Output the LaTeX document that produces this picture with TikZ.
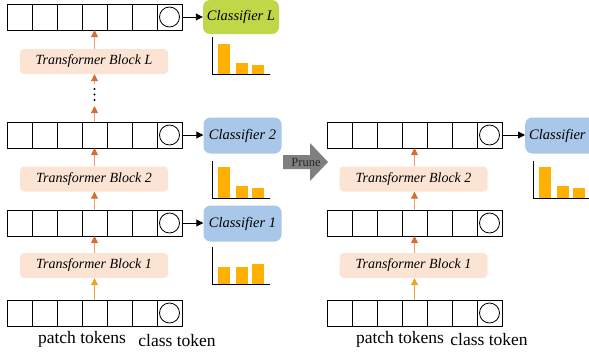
\documentclass[tikz,border=0pt]{standalone}
\usepackage{fontspec}
\setmainfont{Liberation Serif}
\usetikzlibrary{arrows.meta}
\definecolor{blockfill}{RGB}{252,228,212}
\definecolor{clsblue}{RGB}{169,199,232}
\definecolor{clsgreen}{RGB}{192,215,72}
\definecolor{barc}{RGB}{255,176,0}
\definecolor{heador}{RGB}{214,110,50}
\definecolor{shaftor}{RGB}{235,160,120}
\definecolor{yelor}{RGB}{234,165,32}
\definecolor{prunegray}{RGB}{128,128,128}
\newcommand\tokrow[3]{%
  \foreach \i in {1,...,7}{\node[cell] (#1-\i) at ({#2+\i*25-12.5},{#3+13}) {};}
  \node[tokc] (#1-c) at (#1-7) {};}
\newcommand\minichart[5]{%
  \fill[barc] ({#1+6},{#2}) rectangle ({#1+18},{#3});
  \fill[barc] ({#1+24},{#2}) rectangle ({#1+36},{#4});
  \fill[barc] ({#1+40},{#2}) rectangle ({#1+52},{#5});
  \draw[axisline] ({#1},{#2-37}) -- ({#1},{#2}) -- ({#1+58},{#2});}
\tikzset{
  cell/.style={draw, line width=0.8pt, minimum width=25pt, minimum height=26pt, inner sep=0pt, outer sep=0pt},
  tokc/.style={circle, draw, line width=0.8pt, minimum size=20pt, inner sep=0pt},
  blk/.style={fill=blockfill, rounded corners=4pt, minimum width=148pt, minimum height=25pt, inner sep=0pt, font=\fontsize{14}{16}\selectfont\itshape},
  cls/.style={rounded corners=7pt, minimum width=78pt, minimum height=36pt, inner sep=0pt, font=\fontsize{14.5}{16}\selectfont\itshape},
  up/.style={draw=shaftor, line width=1pt, -{Triangle[length=7pt,width=7pt,color=heador]}},
  upy/.style={draw=yelor, line width=1pt, -{Triangle[length=7pt,width=7pt,color=yelor]}},
  rt/.style={line width=0.9pt, -{Triangle[length=7pt,width=7pt]}},
  lbl/.style={inner sep=0pt, font=\fontsize{17.5}{20}\selectfont},
  axisline/.style={line width=1pt}
}
\begin{document}
\begin{tikzpicture}[x=1pt,y=-1pt]
\useasboundingbox (0,0) rectangle (589,356);
\clip (0,0) rectangle (589,356);
% ---------- left column ----------
\tokrow{rL}{7}{4}
\tokrow{rB}{7}{122}
\tokrow{rA}{7}{210}
\tokrow{rI}{7}{300}
\node[blk] (bL) at (94,61.5) {Transformer Block L};
\node[blk] (bB) at (94,179) {Transformer Block 2};
\node[blk] (bA) at (94,265.5) {Transformer Block 1};
\fill (94.5,89) circle (1.2) (94.5,94.5) circle (1.2) (94.5,100) circle (1.2);
\coordinate (dtop) at (94.5,84);
\coordinate (dbot) at (94.5,106);
\draw[up] (rL-4 |- bL.north) -- (rL-4.south);
\draw[up] (dtop) -- (rL-4 |- bL.south);
\draw[up] (rB-4.north) -- (dbot);
\draw[up] (rB-4 |- bB.north) -- (rB-4.south);
\draw[up] (rA-4.north) -- (rA-4 |- bB.south);
\draw[up] (rA-4 |- bA.north) -- (rA-4.south);
\draw[upy] (rI-4.north) -- (rI-4 |- bA.south);
\node[cls, fill=clsgreen, minimum width=76pt, minimum height=34pt] (cL) at (241,17) {Classifier L};
\node[cls, fill=clsblue] (cB) at (242.5,135.5) {Classifier 2};
\node[cls, fill=clsblue] (cA) at (242.5,223.5) {Classifier 1};
\draw[rt] (rL-7.east) -- (cL.west |- rL-7.east);
\draw[rt] (rB-7.east) -- (cB.west |- rB-7.east);
\draw[rt] (rA-7.east) -- (cA.west |- rA-7.east);
\minichart{212}{74}{44}{63}{65}
\minichart{212}{198}{167}{186}{188}
\minichart{212}{284}{267}{267}{264}
\node[lbl] (pt1) at (82,339) {patch tokens};
\node[lbl] (ct1) at (177,341) {class token};
% ---------- prune arrow ----------
\fill[prunegray] (283,155) -- (310,155) -- (310,143) -- (328,162) -- (310,181) -- (310,169) -- (283,169) -- cycle;
\node[inner sep=0pt, font=\fontsize{12.5}{14}\selectfont, text=black!85] (prune) at (306,162) {Prune};
% ---------- right column ----------
\tokrow{sB}{327}{122}
\tokrow{sA}{327}{210}
\tokrow{sI}{327}{300}
\node[blk] (tB) at (413.5,179) {Transformer Block 2};
\node[blk] (tA) at (413.5,265.5) {Transformer Block 1};
\draw[up] (sB-4 |- tB.north) -- (sB-4.south);
\draw[up] (sA-4.north) -- (sA-4 |- tB.south);
\draw[up] (sA-4 |- tA.north) -- (sA-4.south);
\draw[upy] (sI-4.north) -- (sI-4 |- tA.south);
\node[cls, fill=clsblue, anchor=west, minimum width=80pt, text width=72pt, align=left] (cR) at (525,135.5) {Classifier};
\draw[rt] (sB-7.east) -- (cR.west |- sB-7.east);
\minichart{533}{198}{167}{186}{188}
\node[lbl] (pt2) at (400,339) {patch tokens};
\node[lbl] (ct2) at (489,340) {class token};
\end{tikzpicture}
\end{document}
